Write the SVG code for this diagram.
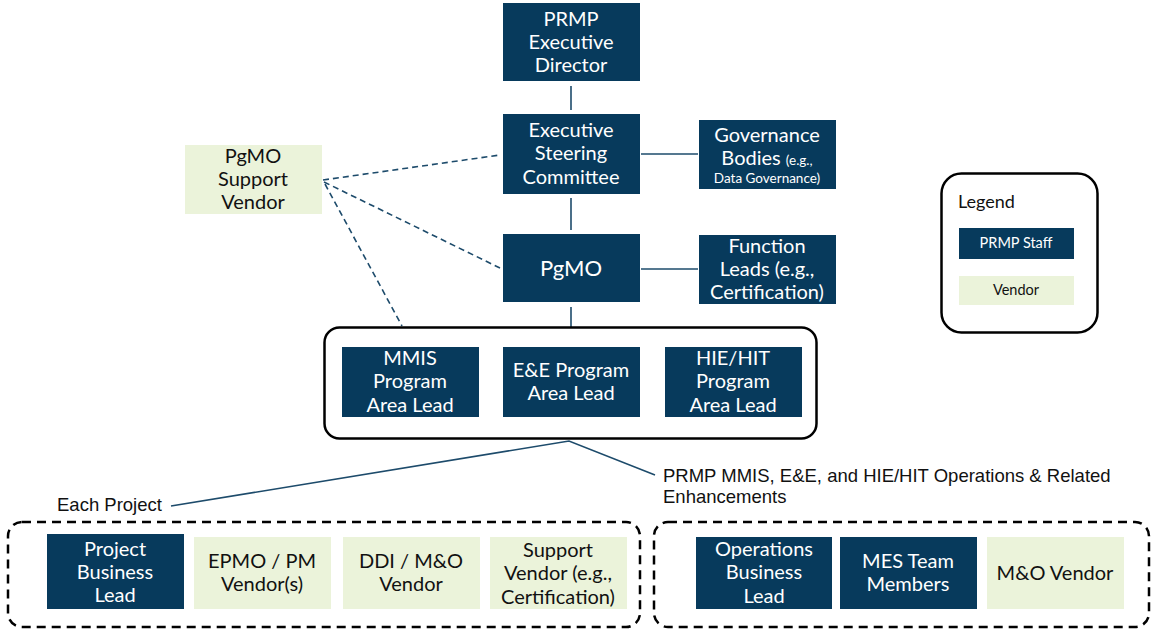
<svg xmlns="http://www.w3.org/2000/svg" width="1155" height="632" viewBox="0 0 1155 632">
<style>
.staff{fill:#073a5c}
.vend{fill:#ebf3da}
.t{font-family:Lato,"Open Sans",sans-serif;font-size:20px;text-anchor:middle}
.w{fill:#ffffff}
.k{fill:#111111}
.sm{font-size:13.5px}
.ar{font-family:"Liberation Sans",Arial,sans-serif;font-size:18.5px;fill:#111111}
.ln{stroke:#1d4b6b;stroke-width:1.6;fill:none}
.dl{stroke:#1d4b6b;stroke-width:1.6;fill:none;stroke-dasharray:6 4}
.box{fill:none;stroke:#000;stroke-width:2.5}
.dbox{fill:none;stroke:#000;stroke-width:2.5;stroke-dasharray:9 6}
</style>
<rect width="1155" height="632" fill="#fff"/>
<g id="connectors">
<line class="ln" x1="571" y1="86" x2="571" y2="110"/>
<line class="ln" x1="571" y1="198" x2="571" y2="230"/>
<line class="ln" x1="571" y1="307" x2="571" y2="327"/>
<line class="ln" x1="641" y1="154" x2="698" y2="154"/>
<line class="ln" x1="641" y1="269" x2="698" y2="269"/>
<line class="dl" x1="323" y1="180" x2="500" y2="155"/>
<line class="dl" x1="324" y1="182" x2="500" y2="268"/>
<line class="dl" x1="325" y1="184" x2="402" y2="326"/>
<polyline class="ln" points="171,506 569,441 655,475"/>
</g>
<g id="exec-director"><rect class="staff" x="503" y="3" width="137" height="78"/>
<text class="t w" x="571" y="26">PRMP</text><text class="t w" x="571" y="49">Executive</text><text class="t w" x="571" y="72">Director</text></g>
<g id="esc"><rect class="staff" x="503" y="114" width="137" height="80"/>
<text class="t w" x="571" y="137">Executive</text><text class="t w" x="571" y="160">Steering</text><text class="t w" x="571" y="184">Committee</text></g>
<g id="governance"><rect class="staff" x="699" y="120" width="137" height="69"/>
<text class="t w" x="767" y="142">Governance</text><text class="t w" x="767" y="165">Bodies <tspan class="sm">(e.g.,</tspan></text><text class="t w sm" x="767" y="183">Data Governance)</text></g>
<g id="pgmo"><rect class="staff" x="503" y="234" width="137" height="68"/>
<text class="t w" x="571" y="276" style="font-size:22px">PgMO</text></g>
<g id="function-leads"><rect class="staff" x="699" y="235" width="137" height="69"/>
<text class="t w" x="767" y="253">Function</text><text class="t w" x="767" y="276">Leads (e.g.,</text><text class="t w" x="767" y="299">Certification)</text></g>
<g id="pgmo-support-vendor"><rect class="vend" x="185" y="145" width="137" height="69"/>
<text class="t k" x="253" y="163">PgMO</text><text class="t k" x="253" y="186">Support</text><text class="t k" x="253" y="209">Vendor</text></g>
<g id="program-area-leads"><rect class="box" x="324.5" y="327.5" width="492" height="111" rx="15"/>
<g id="mmis"><rect class="staff" x="342" y="347" width="137" height="70"/>
<text class="t w" x="410" y="365">MMIS</text><text class="t w" x="410" y="388">Program</text><text class="t w" x="410" y="412">Area Lead</text></g>
<g id="ee"><rect class="staff" x="503" y="347" width="137" height="70"/>
<text class="t w" x="571" y="377">E&amp;E Program</text><text class="t w" x="571" y="400">Area Lead</text></g>
<g id="hie"><rect class="staff" x="665" y="347" width="137" height="70"/>
<text class="t w" x="733" y="365">HIE/HIT</text><text class="t w" x="733" y="388">Program</text><text class="t w" x="733" y="412">Area Lead</text></g>
</g>
<g id="legend"><rect class="box" x="941.5" y="173.5" width="156" height="159" rx="20"/>
<text x="958" y="208" style="font-family:Lato,sans-serif;font-size:18px;fill:#111">Legend</text>
<rect class="staff" x="959" y="228" width="115" height="31"/><text class="t w" x="1016" y="248" style="font-size:14.5px">PRMP Staff</text>
<rect class="vend" x="959" y="276" width="115" height="29"/><text class="t k" x="1016" y="295" style="font-size:14.5px">Vendor</text></g>
<g id="each-project-label"><text class="ar" x="57" y="511">Each Project</text></g>
<g id="ops-label"><text class="ar" x="663" y="482">PRMP MMIS, E&amp;E, and HIE/HIT Operations &amp; Related</text><text class="ar" x="663" y="503">Enhancements</text></g>
<g id="each-project"><rect class="dbox" x="8" y="522" width="632" height="105" rx="14"/>
<g id="project-business-lead"><rect class="staff" x="47" y="534" width="137" height="75"/>
<text class="t w" x="115" y="556">Project</text><text class="t w" x="115" y="579">Business</text><text class="t w" x="115" y="602">Lead</text></g>
<g id="epmo"><rect class="vend" x="194" y="537" width="137" height="72"/>
<text class="t k" x="262" y="568">EPMO / PM</text><text class="t k" x="262" y="591">Vendor(s)</text></g>
<g id="ddi"><rect class="vend" x="343" y="537" width="137" height="72"/>
<text class="t k" x="411" y="568">DDI / M&amp;O</text><text class="t k" x="411" y="591">Vendor</text></g>
<g id="support-vendor"><rect class="vend" x="490" y="537" width="137" height="72"/>
<text class="t k" x="558" y="557">Support</text><text class="t k" x="558" y="580">Vendor (e.g.,</text><text class="t k" x="558" y="604">Certification)</text></g>
</g>
<g id="operations"><rect class="dbox" x="654" y="522" width="495" height="105" rx="14"/>
<g id="ops-business-lead"><rect class="staff" x="696" y="537" width="136" height="72"/>
<text class="t w" x="764" y="556">Operations</text><text class="t w" x="764" y="579">Business</text><text class="t w" x="764" y="603">Lead</text></g>
<g id="mes"><rect class="staff" x="840" y="537" width="137" height="72"/>
<text class="t w" x="908" y="568">MES Team</text><text class="t w" x="908" y="591">Members</text></g>
<g id="mo-vendor"><rect class="vend" x="987" y="537" width="137" height="72"/>
<text class="t k" x="1055" y="580">M&amp;O Vendor</text></g>
</g>
</svg>
